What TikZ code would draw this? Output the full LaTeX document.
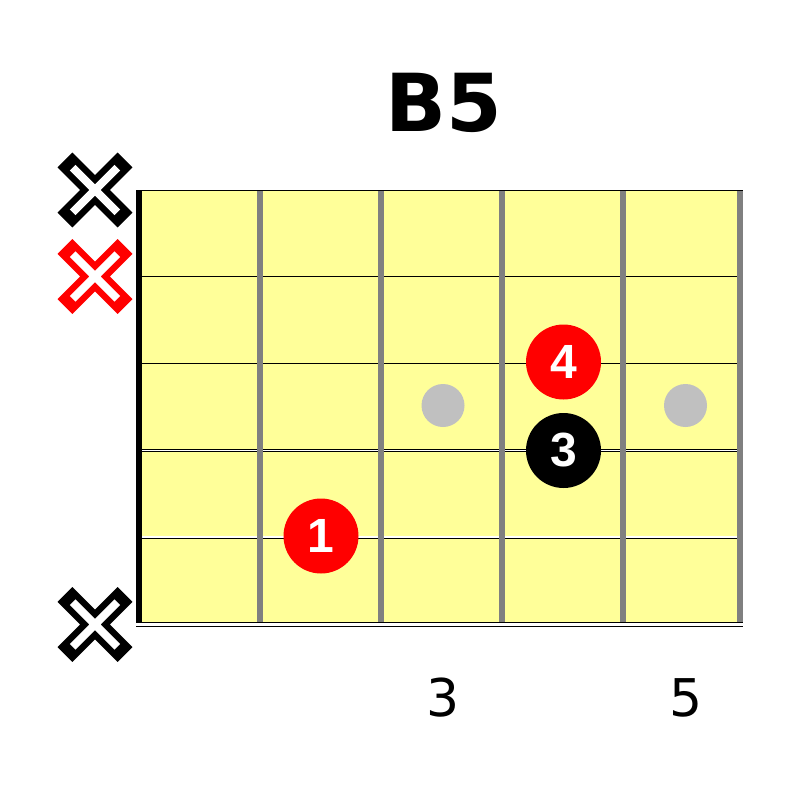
\documentclass[tikz,border=0pt]{standalone}
\usepackage{fontspec}
\setmainfont{DejaVu Sans}
\newfontfamily\fingerfont{Liberation Sans}
\definecolor{board}{RGB}{255,255,153}
\definecolor{fretgray}{RGB}{128,128,128}
\definecolor{dotgray}{RGB}{192,192,192}
\tikzset{
  thinstring/.style={black, line width=1pt},
  woundstring/.style={double=white, line width=0.8pt, double distance=1.4pt, draw=black},
  lowstring/.style={double=white, line width=1pt, double distance=2.6pt, draw=black},
  fretline/.style={fretgray, line width=6pt},
  finger/.style={circle, minimum size=75pt, inner sep=0pt, text=white, font=\fingerfont\bfseries\fontsize{48}{48}\selectfont},
  inlay/.style={circle, fill=dotgray, minimum size=43pt, inner sep=0pt},
}
\newcommand\mutemark[3]{%
  \draw[#3, line width=21pt, line cap=rect] (#1-22.6,#2-22.6) -- (#1+22.6,#2+22.6) (#1-22.6,#2+22.6) -- (#1+22.6,#2-22.6);
  \draw[white, line width=8pt, line cap=rect] (#1-19.5,#2-19.5) -- (#1+19.5,#2+19.5) (#1-19.5,#2+19.5) -- (#1+19.5,#2-19.5);
}
\begin{document}
\begin{tikzpicture}[x=1pt, y=-1pt]
\useasboundingbox (0,0) rectangle (800,800);
% board
\fill[board] (139,190) rectangle (743,622);
% strings
\draw[thinstring] (139,190.5) -- (743,190.5);
\draw[thinstring] (139,276.5) -- (743,276.5);
\draw[thinstring] (139,363) -- (743,363);
\draw[woundstring] (136,450.5) -- (743,450.5);
\draw[woundstring] (136,537) -- (743,537);
% frets
\foreach \x in {260,381,502,623} \draw[fretline] (\x,191) -- (\x,622);
\fill[fretgray] (737,191) rectangle (743,622);
\draw[lowstring] (136,624.5) -- (743,624.5);
% nut
\fill[black] (136,190) rectangle (142,622);
% inlays
\node[inlay] (d3) at (443,405.5) {};
\node[inlay] (d5) at (685.5,405.5) {};
% fingers
\node[finger, fill=red] (f4) at (563.5,362) {4};
\node[finger, fill=black] (f3) at (563.5,450.5) {3};
\node[finger, fill=red] (f1) at (321,536) {1};
% mute marks
\mutemark{95}{190}{black}
\mutemark{95}{276.5}{red}
\mutemark{95}{624.5}{black}
% title
\node[font=\bfseries\fontsize{80}{80}\selectfont, inner sep=0pt] (title) at (444,102.5) {B5};
% fret numbers
\node[font=\fontsize{52}{52}\selectfont, inner sep=0pt] (n3) at (443,697.5) {3};
\node[font=\fontsize{52}{52}\selectfont, inner sep=0pt] (n5) at (686,697.5) {5};
\end{tikzpicture}
\end{document}
